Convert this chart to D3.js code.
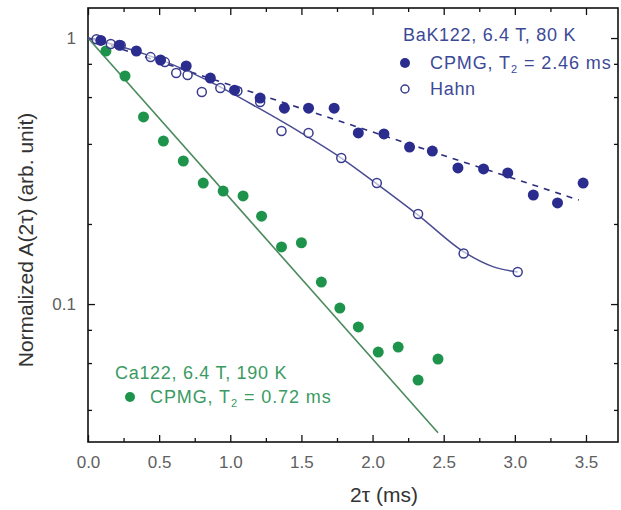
<!DOCTYPE html>
<html>
<head>
<meta charset="utf-8">
<script src="https://cdn.jsdelivr.net/npm/d3@7"></script>
<style>
  body { margin: 0; background: #fff; }
  text { font-family: "Liberation Sans", Arial, sans-serif; }
</style>
</head>
<body>
<div id="chart"></div>
<script>
// BaK122 CPMG (filled blue)
const bakCpmgX = [0.09, 0.22, 0.34, 0.51, 0.69, 0.86, 1.03, 1.21, 1.38, 1.55, 1.73, 1.90, 2.08, 2.26, 2.42, 2.60, 2.78, 2.95, 3.13, 3.30, 3.48];
const bakCpmgY = [0.98, 0.94, 0.894, 0.827, 0.785, 0.707, 0.637, 0.595, 0.545, 0.545, 0.545, 0.440, 0.436, 0.389, 0.376, 0.325, 0.322, 0.311, 0.257, 0.240, 0.285];

// BaK122 Hahn (open blue)
const bakHahnX = [0.06, 0.16, 0.23, 0.44, 0.54, 0.62, 0.70, 0.80, 0.93, 1.05, 1.21, 1.36, 1.55, 1.78, 2.03, 2.32, 2.64, 3.02];
const bakHahnY = [0.99, 0.95, 0.94, 0.848, 0.812, 0.739, 0.726, 0.627, 0.649, 0.632, 0.575, 0.447, 0.440, 0.354, 0.285, 0.218, 0.155, 0.132];

// Ca122 CPMG (green)
const caCpmgX = [0.126, 0.26, 0.39, 0.53, 0.67, 0.81, 0.95, 1.09, 1.22, 1.36, 1.50, 1.64, 1.77, 1.90, 2.04, 2.18, 2.32, 2.46];
const caCpmgY = [0.894, 0.720, 0.505, 0.410, 0.345, 0.285, 0.266, 0.255, 0.214, 0.164, 0.170, 0.121, 0.0966, 0.082, 0.066, 0.0689, 0.0518, 0.0621];

// fit curves
const bakCpmgFit = [[0, 1], [3.45, 0.246]];
const caCpmgFit = [[0, 1], [2.46, 0.0328]];
const bakHahnFit = [[0, 1], [0.4, 0.87], [0.8, 0.71], [1.2, 0.545], [1.49, 0.443], [1.78, 0.354], [2.03, 0.283], [2.32, 0.216], [2.65, 0.156], [2.85, 0.138], [3.02, 0.132]];

// ticks
const xMajor = [0, 0.5, 1, 1.5, 2, 2.5, 3, 3.5];
const xMinor = [0.25, 0.75, 1.25, 1.75, 2.25, 2.75, 3.25];
const yMajor = [0.1, 1];
const yMinor = [0.04, 0.06, 0.08, 0.2, 0.4, 0.6, 0.8];

const blue = "#2b2d8e", green = "#1d934c";

const margin = { top: 8, right: 3, bottom: 68, left: 88 },
    width = 621 - margin.left - margin.right,
    height = 510 - margin.top - margin.bottom;

const svg = d3.select("#chart").append("svg")
    .attr("width", 621)
    .attr("height", 510)
    .append("g")
    .attr("transform", `translate(${margin.left},${margin.top})`);

const x = d3.scaleLinear().domain([0, 3.725]).range([0, width]);
const y = d3.scaleLog().domain([0.0303, 1.297]).range([height, 0]);

function styleAxis(g) {
    g.select(".domain").remove();
    g.selectAll(".tick line").attr("stroke", "#111").attr("stroke-width", 1.3);
    g.selectAll(".tick text").attr("fill", "#606060").style("font-size", "17px");
}

// bottom
svg.append("g").attr("transform", `translate(0,${height})`)
    .call(d3.axisBottom(x).tickValues(xMajor).tickSize(-7).tickPadding(14).tickFormat(d3.format(".1f")))
    .call(styleAxis);
svg.append("g").attr("transform", `translate(0,${height})`)
    .call(d3.axisBottom(x).tickValues(xMinor).tickSize(-4).tickFormat(""))
    .call(styleAxis);
// top
svg.append("g")
    .call(d3.axisTop(x).tickValues(xMajor).tickSize(-7).tickFormat(""))
    .call(styleAxis);
svg.append("g")
    .call(d3.axisTop(x).tickValues(xMinor).tickSize(-4).tickFormat(""))
    .call(styleAxis);
// left
svg.append("g")
    .call(d3.axisLeft(y).tickValues(yMajor).tickSize(-7).tickPadding(12).tickFormat(d => d === 1 ? "1" : "0.1"))
    .call(styleAxis);
svg.append("g")
    .call(d3.axisLeft(y).tickValues(yMinor).tickSize(-4).tickFormat(""))
    .call(styleAxis);
// right
svg.append("g").attr("transform", `translate(${width},0)`)
    .call(d3.axisRight(y).tickValues(yMajor).tickSize(-7).tickFormat(""))
    .call(styleAxis);
svg.append("g").attr("transform", `translate(${width},0)`)
    .call(d3.axisRight(y).tickValues(yMinor).tickSize(-4).tickFormat(""))
    .call(styleAxis);

svg.append("rect")
    .attr("width", width).attr("height", height)
    .attr("fill", "none").attr("stroke", "#111").attr("stroke-width", 1.6);

const line = d3.line().x(d => x(d[0])).y(d => y(d[1]));

svg.append("path").datum(caCpmgFit)
    .attr("d", line).attr("fill", "none")
    .attr("stroke", "#4a8a5c").attr("stroke-width", 1.6);

svg.append("path").datum(bakCpmgFit)
    .attr("d", line).attr("fill", "none")
    .attr("stroke", "#2d2f7e").attr("stroke-width", 1.6)
    .attr("stroke-dasharray", "6,6");

svg.append("path").datum(bakHahnFit)
    .attr("d", line.curve(d3.curveMonotoneX)).attr("fill", "none")
    .attr("stroke", "#4a4c92").attr("stroke-width", 1.5);

svg.selectAll(".ca").data(caCpmgX).enter().append("circle")
    .attr("cx", d => x(d))
    .attr("cy", (d, i) => y(caCpmgY[i]))
    .attr("r", 5.5).attr("fill", green);

svg.selectAll(".hahn").data(bakHahnX).enter().append("circle")
    .attr("cx", d => x(d))
    .attr("cy", (d, i) => y(bakHahnY[i]))
    .attr("r", 4.5).attr("fill", "#fff").attr("fill-opacity", 0.6)
    .attr("stroke", "#3a3c8e").attr("stroke-width", 1.5);

svg.selectAll(".cpmg").data(bakCpmgX).enter().append("circle")
    .attr("cx", d => x(d))
    .attr("cy", (d, i) => y(bakCpmgY[i]))
    .attr("r", 5.5).attr("fill", blue);

// legends (page coords)
const page = d3.select("#chart svg");
const blueText = "#3c4a96", greenText = "#3a9a62";

page.append("text").attr("x", 403).attr("y", 41)
    .attr("fill", blueText).style("font-size", "18px").style("letter-spacing", "0.7px")
    .text("BaK122, 6.4 T, 80 K");
page.append("circle").attr("cx", 405).attr("cy", 63).attr("r", 5).attr("fill", blue);
const t1 = page.append("text").attr("x", 430).attr("y", 69)
    .attr("fill", blueText).style("font-size", "18px").style("letter-spacing", "0.9px");
t1.append("tspan").text("CPMG, T");
t1.append("tspan").attr("dy", 4).style("font-size", "11px").text("2");
t1.append("tspan").attr("dy", -4).text(" = 2.46 ms");
page.append("circle").attr("cx", 405).attr("cy", 89).attr("r", 4)
    .attr("fill", "none").attr("stroke", "#3a3c8e").attr("stroke-width", 1.5);
page.append("text").attr("x", 430).attr("y", 95)
    .attr("fill", blueText).style("font-size", "18px").style("letter-spacing", "0.7px")
    .text("Hahn");

page.append("text").attr("x", 115).attr("y", 379)
    .attr("fill", greenText).style("font-size", "18px").style("letter-spacing", "0.7px")
    .text("Ca122, 6.4 T, 190 K");
page.append("circle").attr("cx", 130).attr("cy", 397).attr("r", 5).attr("fill", green);
const t2 = page.append("text").attr("x", 150).attr("y", 403)
    .attr("fill", greenText).style("font-size", "18px").style("letter-spacing", "0.9px");
t2.append("tspan").text("CPMG, T");
t2.append("tspan").attr("dy", 4).style("font-size", "11px").text("2");
t2.append("tspan").attr("dy", -4).text(" = 0.72 ms");

// axis titles
page.append("text").attr("x", 384).attr("y", 502)
    .attr("text-anchor", "middle").attr("fill", "#333")
    .style("font-size", "21px").text("2τ (ms)");
page.append("text")
    .attr("transform", "translate(33,240) rotate(-90)")
    .attr("text-anchor", "middle").attr("fill", "#333")
    .style("font-size", "21px").text("Normalized A(2τ) (arb. unit)");
</script>
</body>
</html>
